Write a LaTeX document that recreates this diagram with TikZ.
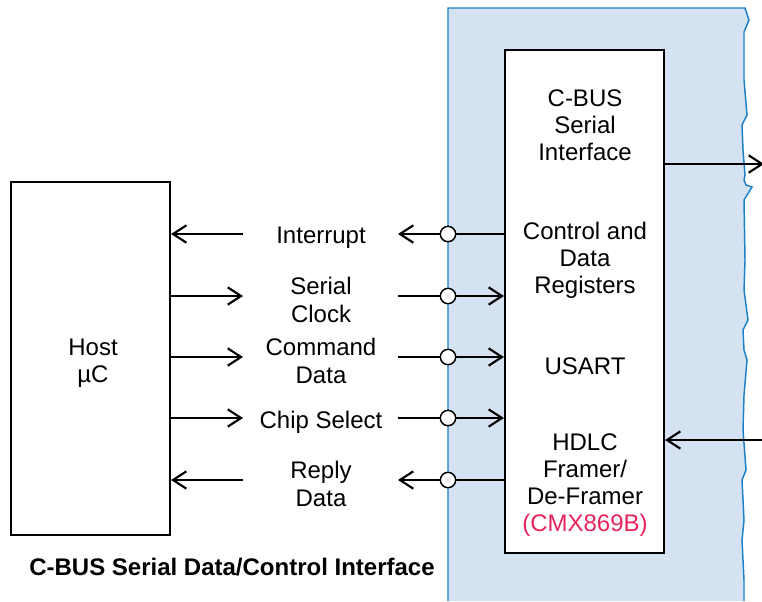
\documentclass[tikz,border=0pt]{standalone}
\usepackage{fontspec}
\setmainfont{Liberation Sans}
\usetikzlibrary{arrows.meta}
\definecolor{panelfill}{RGB}{213,226,242}
\definecolor{paneledge}{RGB}{28,128,200}
\definecolor{partred}{RGB}{232,36,92}
\tikzset{
	blk/.style={draw, line width=1.6pt, fill=white, inner sep=0pt},
	sig/.style={line width=1.5pt, -{Straight Barb[length=10pt, width=13pt, line width=1.6pt]}},
	pin/.style={circle, draw, line width=1.1pt, fill=white, minimum size=11.5pt, inner sep=0pt},
	lbl/.style={align=center, font=\fontsize{18}{20.4}\selectfont},
}
\begin{document}
\begin{tikzpicture}[x=0.75pt, y=-0.75pt]
	\useasboundingbox (0,0) rectangle (762,601);
	% Chip panel
		\fill[panelfill] (448,601) -- (448,8) -- (745,8) -- (749,20) -- (744,32) -- (744,80) -- (747,115) -- (742,125) -- (743,150) -- (745,175) -- (744,180) -- (746,185) -- (752,187) -- (744,200) -- (745,260) -- (744,290) -- (748,320) -- (743,330) -- (744,350) -- (747,360) -- (744,395) -- (743,430) -- (746,470) -- (742,480) -- (744,520) -- (742,540) -- (744,580) -- (744,601) -- cycle;
		\draw[paneledge, line width=1.1pt] (448,601) -- (448,8) -- (745,8) -- (749,20) -- (744,32) -- (744,80) -- (747,115) -- (742,125) -- (743,150) -- (745,175) -- (744,180) -- (746,185) -- (752,187) -- (744,200) -- (745,260) -- (744,290) -- (748,320) -- (743,330) -- (744,350) -- (747,360) -- (744,395) -- (743,430) -- (746,470) -- (742,480) -- (744,520) -- (742,540) -- (744,580) -- (744,601);
	% Blocks
		\node[blk, minimum width=119.25pt, minimum height=264.75pt] (host) at (90.5,358.5) {};
		\node[lbl] (hostlbl) at (93,363) {Host\\µC};
		\node[blk, minimum width=119.25pt, minimum height=377.25pt] (chip) at (584.5,301.5) {};
		\node[lbl] (bus) at (585,125) {C-BUS\\Serial\\Interface};
		\node[lbl] (regs) at (585,260) {Control and\\Data\\Registers};
		\node[lbl] (usart) at (585,366) {USART};
		\node[lbl] (hdlc) at (585,485) {HDLC\\Framer/\\De-Framer\\\textcolor{partred}{(CMX869B)}};
	% Signals
		\foreach \n/\y/\txt in {int/234/Interrupt, clk/296/{Serial\\Clock}, cmd/357/{Command\\Data}, cs/418/Chip Select, rpl/480/{Reply\\Data}}{
			\node[lbl] (\n) at (321,\y+4) {\txt};
			\coordinate (\n-h) at (243,\y);
			\coordinate (\n-c) at (398,\y);
			\coordinate (\n-p) at (448,\y);
		}
		% to host
		\foreach \n in {int, rpl}{
			\draw[sig] (\n-h) -- (\n-h -| host.east);
			\draw[sig] (chip.west |- \n-p) -- (\n-c);
		}
		% from host
		\foreach \n in {clk, cmd, cs}{
			\draw[sig] (host.east |- \n-h) -- (\n-h);
			\draw[sig] (\n-c) -- (\n-c -| chip.west);
		}
		\foreach \n in {int, clk, cmd, cs, rpl}
			\node[pin] at (\n-p) {};
	% Right side
		\coordinate (tx) at (764,164);
		\coordinate (rx) at (762,440);
		\draw[sig] (chip.east |- tx) -- (tx);
		\draw[sig] (rx) -- (rx -| chip.east);
	% Caption
		\node[font=\bfseries\fontsize{18}{20}\selectfont] (caption) at (232,567) {C-BUS Serial Data/Control Interface};
\end{tikzpicture}
\end{document}
